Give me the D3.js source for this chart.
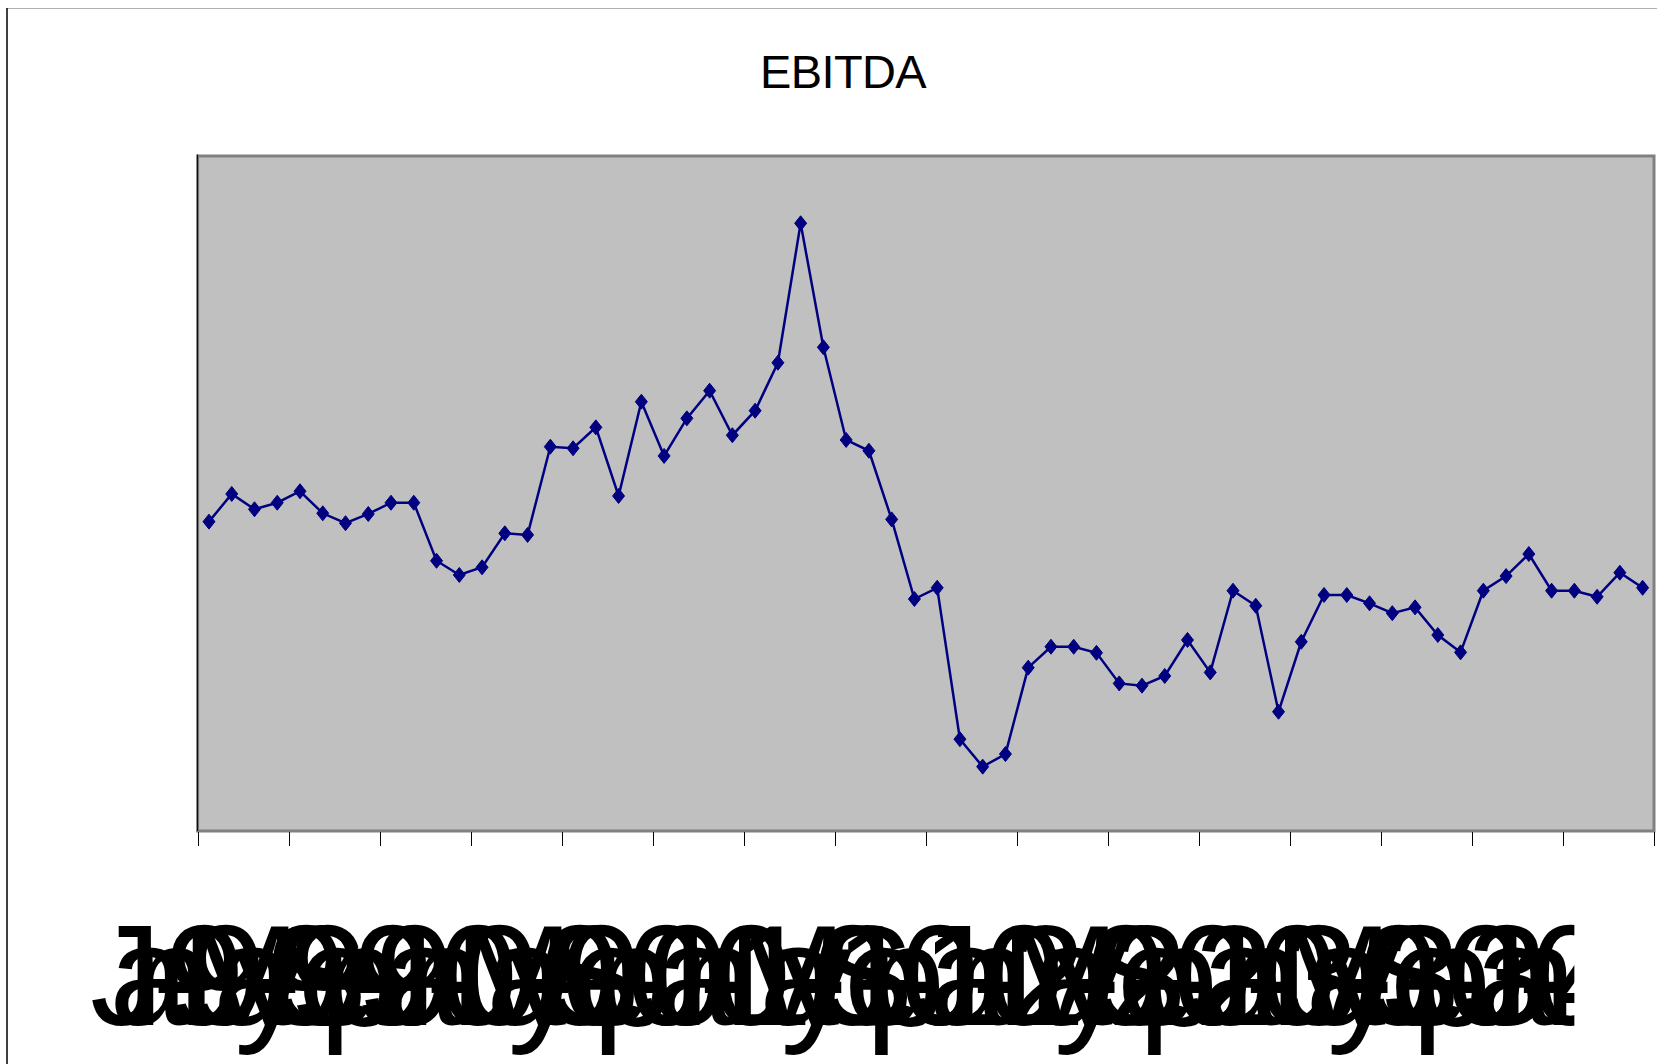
<!DOCTYPE html>
<html>
<head>
<meta charset="utf-8">
<script src="https://cdn.jsdelivr.net/npm/d3@7"></script>
<style>
html,body{margin:0;padding:0;background:#ffffff;overflow:hidden}
svg{display:block}
</style>
</head>
<body>
<svg id="chart" width="1657" height="1064"></svg>
<script>
// ---- data ----
const chartTitle = "EBITDA";

const months = [
  "Jan-99","Feb-99","Mar-99","Apr-99","May-99","Jun-99","Jul-99","Aug-99","Sep-99","Oct-99","Nov-99","Dec-99",
  "Jan-00","Feb-00","Mar-00","Apr-00","May-00","Jun-00","Jul-00","Aug-00","Sep-00","Oct-00","Nov-00","Dec-00",
  "Jan-01","Feb-01","Mar-01","Apr-01","May-01","Jun-01","Jul-01","Aug-01","Sep-01","Oct-01","Nov-01","Dec-01",
  "Jan-02","Feb-02","Mar-02","Apr-02","May-02","Jun-02","Jul-02","Aug-02","Sep-02","Oct-02","Nov-02","Dec-02",
  "Jan-03","Feb-03","Mar-03","Apr-03","May-03","Jun-03","Jul-03","Aug-03","Sep-03","Oct-03","Nov-03","Dec-03",
  "Jan-04","Feb-04","Mar-04","Apr-04"
];

const ebitda = [
  13.75, 14.98, 14.30, 14.59, 15.10, 14.12, 13.68, 14.09, 14.59, 14.59, 12.01, 11.38,
  11.72, 13.23, 13.16, 17.08, 17.01, 17.94, 14.89, 19.08, 16.67, 18.34, 19.57, 17.59,
  18.68, 20.81, 27.01, 21.50, 17.38, 16.90, 13.85, 10.31, 10.81, 4.08, 2.86, 3.42,
  7.26, 8.19, 8.19, 7.92, 6.56, 6.46, 6.89, 8.49, 7.05, 10.68, 10.01, 5.30,
  8.41, 10.49, 10.49, 10.12, 9.68, 9.94, 8.71, 7.94, 10.68, 11.33, 12.31, 10.68,
  10.68, 10.41, 11.48, 10.81
];

const tickLabels = [
  "Jan-99","May-99","Sep-99","Jan-00","May-00","Sep-00","Jan-01","May-01",
  "Sep-01","Jan-02","May-02","Sep-02","Jan-03","May-03","Sep-03","Jan-04"
];

const yDomain = [0, 30];

// ---- layout ----
const W = 1657, H = 1064;
const plot = {left: 197.6, right: 1654, top: 156, bottom: 831};
const labelFont = 143;       // glyph size of the category labels
const labelSqueeze = 0.27;   // glyph advance compression seen in the reference

const svg = d3.select("#chart");

svg.append("rect").attr("width", W).attr("height", H).attr("fill", "#ffffff");

// chart area frame (partially visible)
svg.append("line").attr("x1", 7).attr("x2", W).attr("y1", 8.5).attr("y2", 8.5)
  .attr("stroke", "#b0b0b0").attr("stroke-width", 1);
svg.append("line").attr("x1", 7).attr("x2", 7).attr("y1", 8).attr("y2", H)
  .attr("stroke", "#000000").attr("stroke-width", 1.5);

// title
svg.append("text")
  .attr("x", 843).attr("y", 88)
  .attr("text-anchor", "middle")
  .attr("font-family", "'Liberation Sans', Arial, sans-serif")
  .attr("font-size", 47)
  .attr("letter-spacing", -0.6)
  .attr("fill", "#000000")
  .text(chartTitle);

// scales
const x = d3.scaleBand().domain(months).range([plot.left, plot.right]).padding(0);
const y = d3.scaleLinear().domain(yDomain).range([plot.bottom, plot.top]);
const cx = d => x(d) + x.bandwidth() / 2;

// plot area
svg.append("rect")
  .attr("x", plot.left).attr("y", plot.top)
  .attr("width", plot.right - plot.left).attr("height", plot.bottom - plot.top)
  .attr("fill", "#c0c0c0")
  .attr("stroke", "#808080").attr("stroke-width", 3);

// value axis line (left, black)
svg.append("line")
  .attr("x1", plot.left).attr("x2", plot.left)
  .attr("y1", plot.top - 1.5).attr("y2", plot.bottom)
  .attr("stroke", "#000000").attr("stroke-width", 1);

// category axis tick marks: every 4 categories (boundaries) + right end
const tickCats = months.filter((m, i) => i % 4 === 0);
const tickXs = tickCats.map(m => x(m)).concat([x.range()[1]]);
svg.append("g").selectAll("line").data(tickXs).join("line")
  .attr("x1", d => Math.round(d) + 0.5).attr("x2", d => Math.round(d) + 0.5)
  .attr("y1", plot.bottom + 1).attr("y2", plot.bottom + 15)
  .attr("stroke", "#000000").attr("stroke-width", 1);

// category labels (huge, overlapping, clipped on the right)
const lastLabelX = cx(tickCats[tickCats.length - 1]);
svg.append("clipPath").attr("id", "lblclip")
  .append("rect").attr("x", 0).attr("y", plot.bottom).attr("width", lastLabelX).attr("height", H - plot.bottom);

svg.append("g").attr("clip-path", "url(#lblclip)")
  .selectAll("text").data(tickLabels).join("text")
  .attr("x", 0)
  .attr("y", 1025)
  .attr("font-family", "'Liberation Sans', Arial, sans-serif")
  .attr("font-size", labelFont)
  .attr("fill", "#000000")
  .text(d => d)
  .each(function (d, i) {
    const n = this.getNumberOfChars();
    const x0 = cx(tickCats[i]) - 119;
    const p0 = this.getStartPositionOfChar(0).x;
    const xs = [];
    for (let k = 0; k < n; k++) {
      xs.push((x0 + labelSqueeze * (this.getStartPositionOfChar(k).x - p0)).toFixed(1));
    }
    this.setAttribute("x", xs.join(" "));
  });

// series line
const line = d3.line().x((d, i) => cx(months[i])).y(d => y(d));
svg.append("path").datum(ebitda)
  .attr("d", line)
  .attr("fill", "none")
  .attr("stroke", "#000080")
  .attr("stroke-width", 2.5);

// diamond markers
svg.append("g").selectAll("path").data(ebitda).join("path")
  .attr("transform", (d, i) => `translate(${cx(months[i])},${y(d)})`)
  .attr("d", "M0,-7.5L6,0L0,7.5L-6,0Z")
  .attr("fill", "#000080")
  .attr("stroke", "#000080")
  .attr("stroke-width", 1);
</script>
</body>
</html>
